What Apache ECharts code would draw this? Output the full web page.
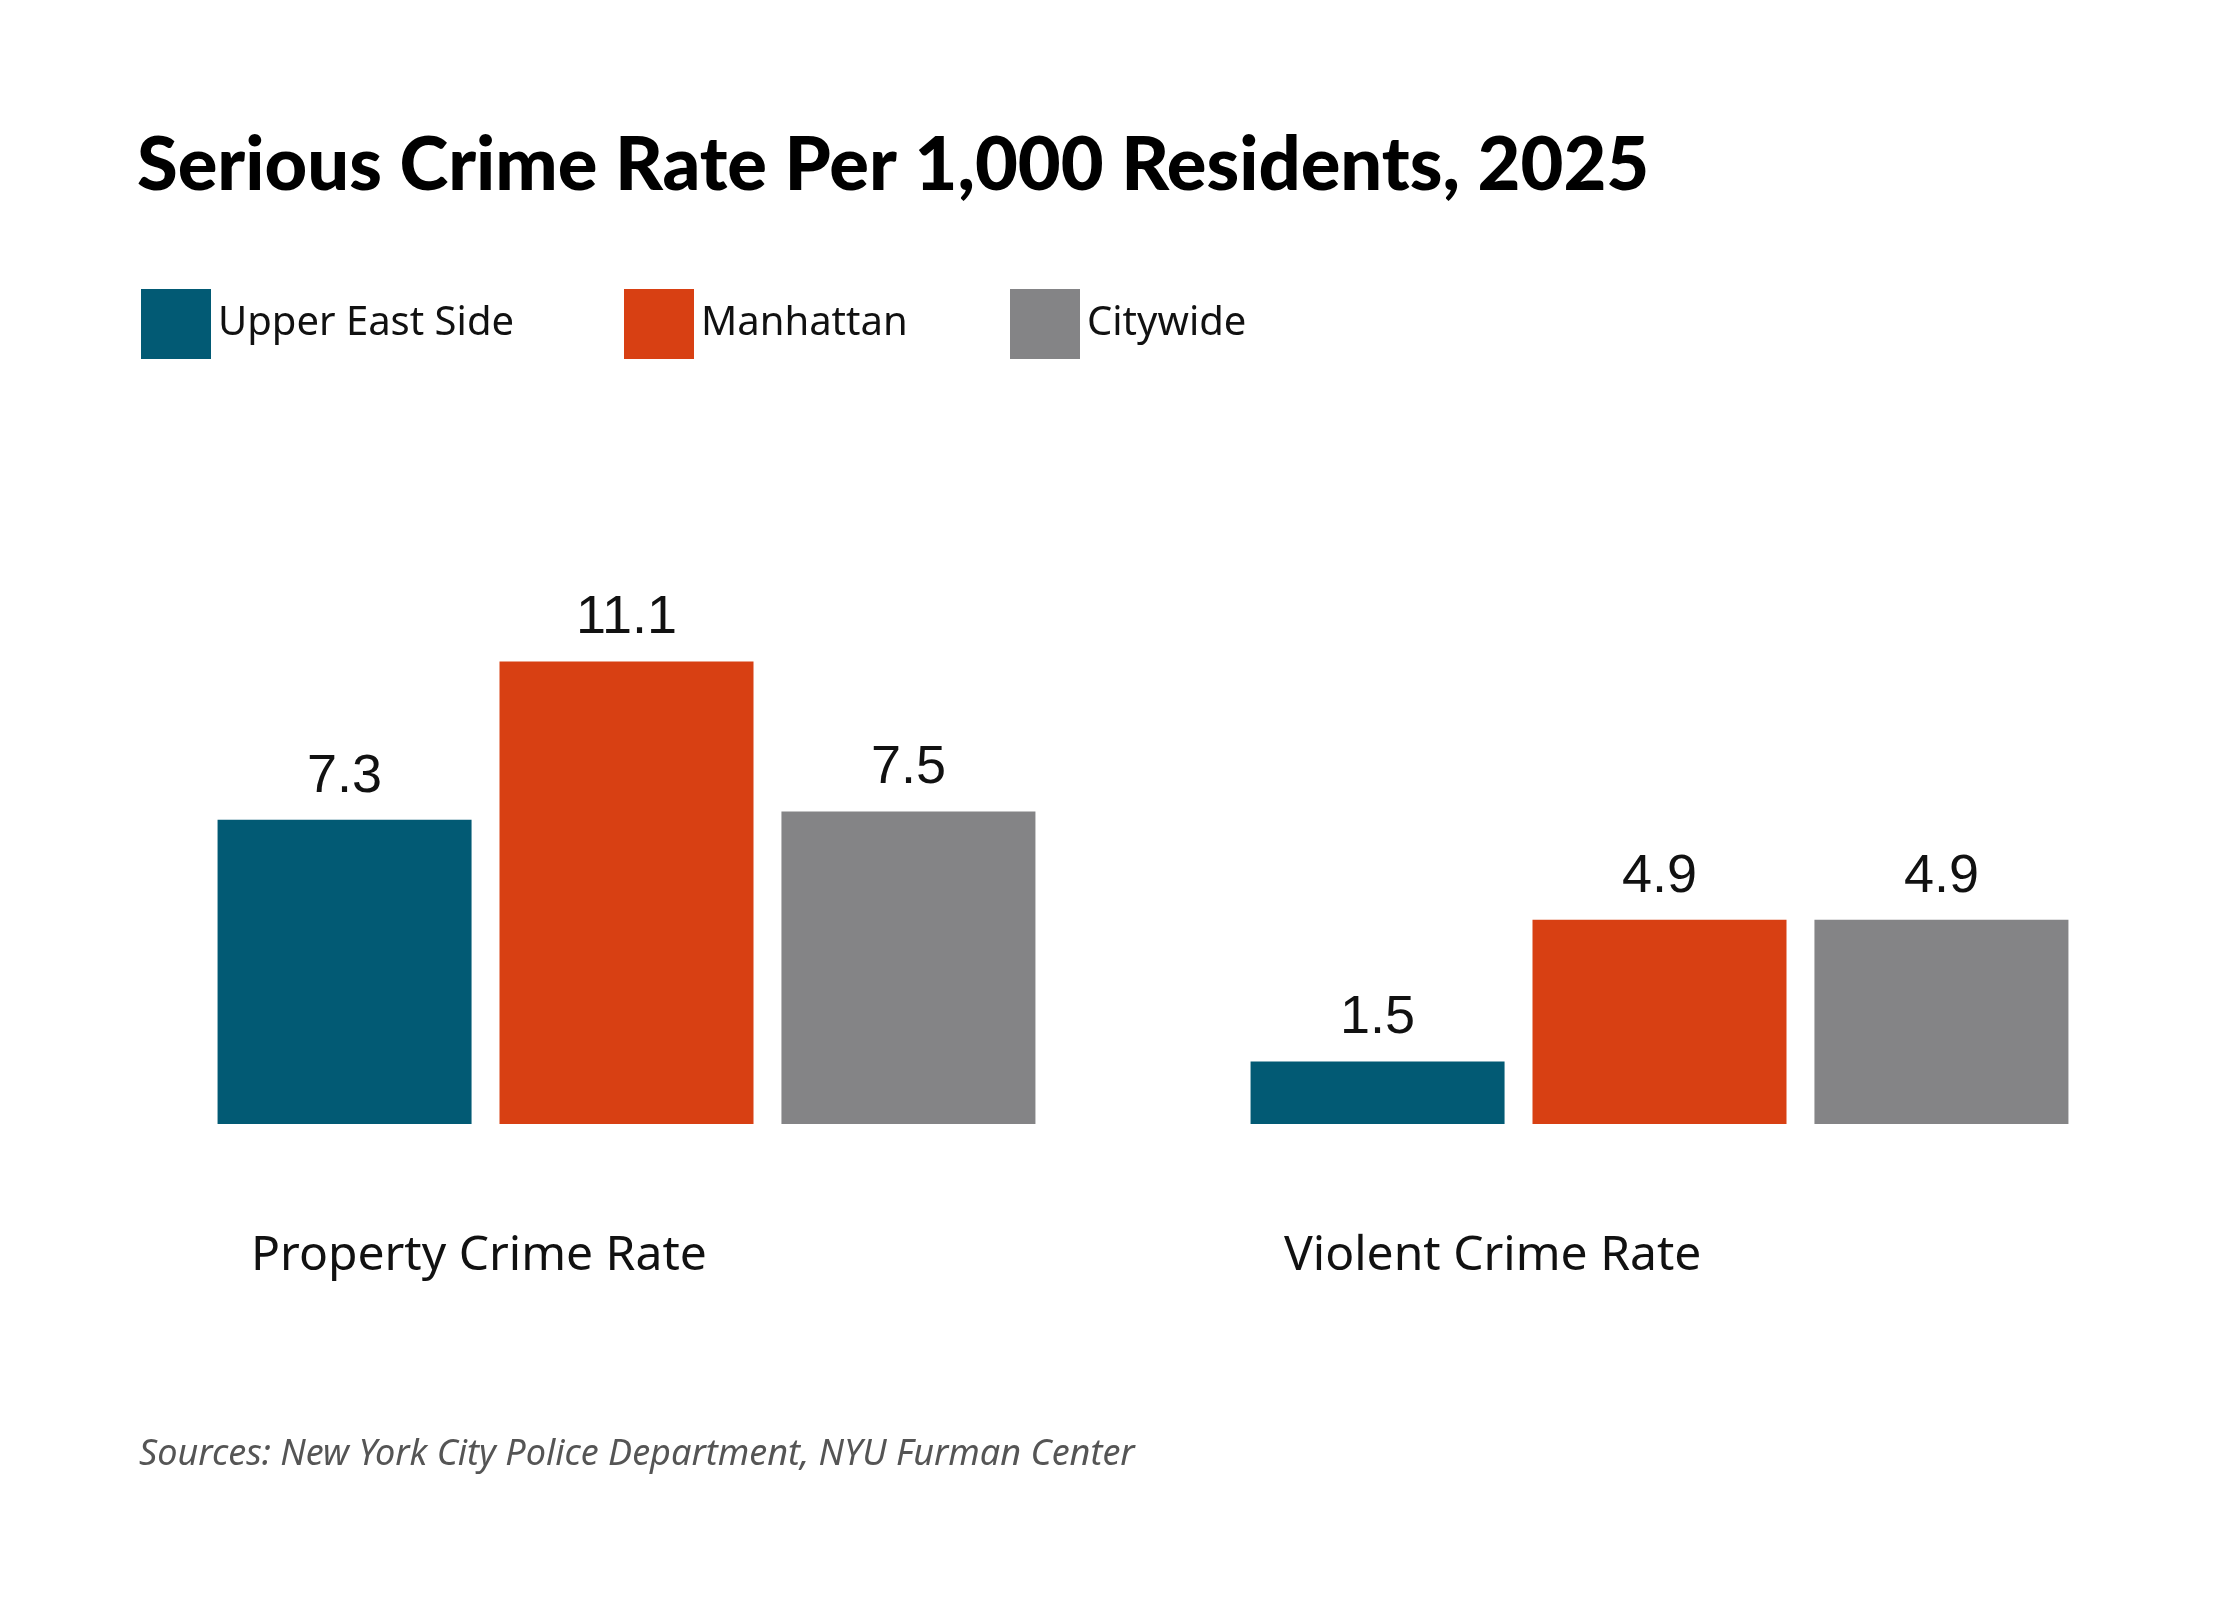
<!DOCTYPE html>
<html>
<head>
<meta charset="utf-8">
<script src="https://cdn.jsdelivr.net/npm/echarts@6/dist/echarts.min.js"></script>
<style>html,body{margin:0;padding:0;background:#fff}#chart{width:2240px;height:1600px}</style>
</head>
<body>
<div id="chart"></div>
<script>
let categories = ['Property Crime Rate', 'Violent Crime Rate'];
let seriesNames = ['Upper East Side', 'Manhattan', 'Citywide'];
let colors = ['#025a74', '#d84013', '#848486'];
let upperEastSide = [7.3, 1.5];
let manhattan = [11.1, 4.9];
let citywide = [7.5, 4.9];
let values = [upperEastSide, manhattan, citywide];
let legendLeft = [136, 619, 1005];
let labelLeft = [251, 1284];

let chart = echarts.init(document.getElementById('chart'));
let series = [];
let legends = [];
for (let i = 0; i < seriesNames.length; i++) {
  series.push({
    name: seriesNames[i],
    type: 'bar',
    data: values[i],
    barWidth: 254,
    barGap: '11%',
    itemStyle: {color: colors[i]},
    label: {
      show: true,
      position: 'top',
      distance: 16,
      color: '#111',
      fontFamily: 'Liberation Sans',
      fontSize: 54
    }
  });
  legends.push({
    data: [seriesNames[i]],
    left: legendLeft[i],
    top: 284,
    itemWidth: 70,
    itemHeight: 70,
    itemGap: 0,
    icon: 'rect',
    textStyle: {fontFamily: 'Noto Sans', fontSize: 40, color: '#111', padding: [0, 0, 0, 2]}
  });
}
let graphics = categories.map(function (c, i) {
  return {
    type: 'text',
    left: labelLeft[i],
    top: 1232,
    style: {text: c, fontFamily: 'Noto Sans', fontSize: 48, fill: '#111'}
  };
});
chart.setOption({
  backgroundColor: '#fff',
  animation: false,
  title: [
    {
      text: 'Serious Crime Rate Per 1,000 Residents, 2025',
      left: 132,
      top: 124,
      textStyle: {fontFamily: 'Lato', fontWeight: 900, fontSize: 74, color: '#000'}
    },
    {
      text: 'Sources: New York City Police Department, NYU Furman Center',
      left: 134,
      top: 1432,
      textStyle: {fontFamily: 'Noto Sans', fontStyle: 'italic', fontWeight: 'normal', fontSize: 36, color: '#555'}
    }
  ],
  legend: legends,
  grid: {left: 110, right: 64, top: 624, bottom: 476},
  xAxis: {
    type: 'category',
    data: categories,
    axisLine: {show: false},
    axisTick: {show: false},
    axisLabel: {show: false}
  },
  yAxis: {type: 'value', min: 0, max: 12, show: false, splitLine: {show: false}},
  series: series,
  graphic: graphics
});
</script>
</body>
</html>
